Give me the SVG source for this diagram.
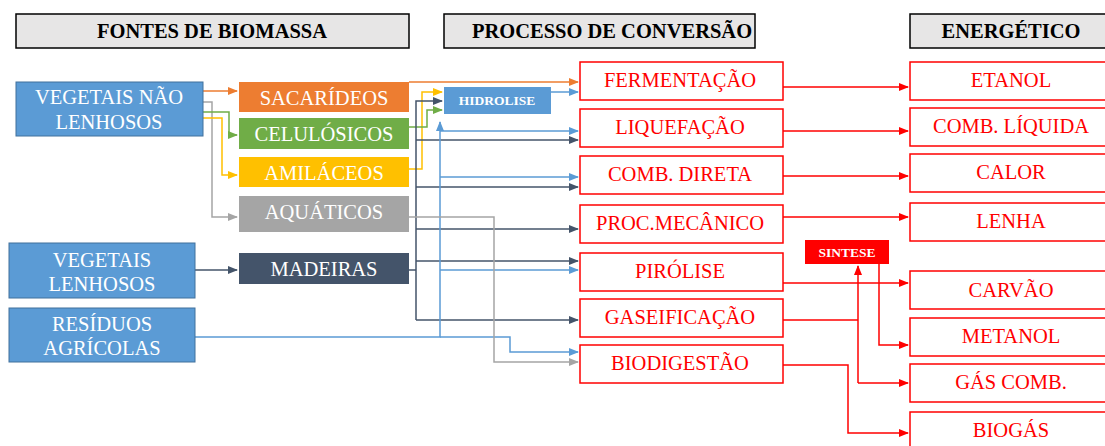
<svg xmlns="http://www.w3.org/2000/svg" width="1105" height="446" viewBox="0 0 1105 446" font-family="'Liberation Serif', 'DejaVu Serif', serif">
<style>
text{font-family:'Liberation Serif','DejaVu Serif',serif;text-anchor:middle;}
.hdr rect{fill:#E7E6E6;stroke:#000;stroke-width:1.5;}
.hdr text{font-size:20.5px;font-weight:bold;fill:#000;}
.src rect{fill:#5B9BD5;stroke:#41719C;stroke-width:1;}
.src text,.cat text{font-size:20.5px;fill:#fff;}
.proc rect,.en rect{fill:#fff;stroke:#FF0000;stroke-width:1.5;}
.proc text,.en text{font-size:20.5px;fill:#FF0000;}
.c{fill:none;stroke-width:1.5;}
.or{stroke:#ED7D31;} .gr{stroke:#70AD47;} .ye{stroke:#FFC000;} .gy{stroke:#A5A5A5;} .dk{stroke:#44546A;} .bl{stroke:#5B9BD5;} .rd{stroke:#FF0000;}
</style>
<defs>
<marker id="aor" markerWidth="10" markerHeight="8" refX="9" refY="4" orient="auto" markerUnits="userSpaceOnUse"><path d="M0,0L10,4L0,8z" fill="#ED7D31"/></marker>
<marker id="agr" markerWidth="10" markerHeight="8" refX="9" refY="4" orient="auto" markerUnits="userSpaceOnUse"><path d="M0,0L10,4L0,8z" fill="#70AD47"/></marker>
<marker id="aye" markerWidth="10" markerHeight="8" refX="9" refY="4" orient="auto" markerUnits="userSpaceOnUse"><path d="M0,0L10,4L0,8z" fill="#FFC000"/></marker>
<marker id="agy" markerWidth="10" markerHeight="8" refX="9" refY="4" orient="auto" markerUnits="userSpaceOnUse"><path d="M0,0L10,4L0,8z" fill="#A5A5A5"/></marker>
<marker id="adk" markerWidth="10" markerHeight="8" refX="9" refY="4" orient="auto" markerUnits="userSpaceOnUse"><path d="M0,0L10,4L0,8z" fill="#44546A"/></marker>
<marker id="abl" markerWidth="10" markerHeight="8" refX="9" refY="4" orient="auto" markerUnits="userSpaceOnUse"><path d="M0,0L10,4L0,8z" fill="#5B9BD5"/></marker>
<marker id="ard" markerWidth="10" markerHeight="8" refX="9" refY="4" orient="auto" markerUnits="userSpaceOnUse"><path d="M0,0L10,4L0,8z" fill="#FF0000"/></marker>
</defs>

<g id="headers" class="hdr">
<g id="h-fontes"><rect x="16" y="14" width="393" height="34"/><text x="212" y="38">FONTES DE BIOMASSA</text></g>
<g id="h-processo"><rect x="444" y="14" width="311" height="34"/><text x="612" y="38">PROCESSO DE CONVERSÃO</text></g>
<g id="h-energetico"><rect x="910" y="14" width="200" height="34"/><text x="1011" y="38">ENERGÉTICO</text></g>
</g>

<g id="connectors">
<path class="c or" d="M203,91H237" marker-end="url(#aor)"/>
<path class="c gy" d="M203,102H212V217H237" marker-end="url(#agy)"/>
<path class="c gr" d="M203,112H229V135H237" marker-end="url(#agr)"/>
<path class="c ye" d="M203,118H222V175H237" marker-end="url(#aye)"/>
<path class="c dk" d="M195,270H237" marker-end="url(#adk)"/>

<path class="c or" d="M409,82H578" marker-end="url(#aor)"/>
<path class="c ye" d="M409,169H422V92H442" marker-end="url(#aye)"/>
<path class="c gr" d="M409,127H427V110H442" marker-end="url(#agr)"/>
<path class="c bl" d="M551,92H578" marker-end="url(#abl)"/>

<path class="c dk" d="M409,270H416"/>
<path class="c dk" d="M416,320V101H442" marker-end="url(#adk)"/>
<path class="c dk" d="M416,140H578" marker-end="url(#adk)"/>
<path class="c dk" d="M416,187H578" marker-end="url(#adk)"/>
<path class="c dk" d="M416,229H578" marker-end="url(#adk)"/>
<path class="c dk" d="M416,261H578" marker-end="url(#adk)"/>
<path class="c dk" d="M416,320H578" marker-end="url(#adk)"/>

<path class="c bl" d="M195,337H440V122" marker-end="url(#abl)"/>
<path class="c bl" d="M440,131H578" marker-end="url(#abl)"/>
<path class="c bl" d="M440,177H578" marker-end="url(#abl)"/>
<path class="c bl" d="M440,270H578" marker-end="url(#abl)"/>
<path class="c bl" d="M440,337H510V352H578" marker-end="url(#abl)"/>

<path class="c gy" d="M409,217H494V362H578" marker-end="url(#agy)"/>

<path class="c rd" d="M783,87H908" marker-end="url(#ard)"/>
<path class="c rd" d="M783,131H908" marker-end="url(#ard)"/>
<path class="c rd" d="M783,176H908" marker-end="url(#ard)"/>
<path class="c rd" d="M783,217H908" marker-end="url(#ard)"/>
<path class="c rd" d="M783,283H908" marker-end="url(#ard)"/>
<path class="c rd" d="M783,320H858"/>
<path class="c rd" d="M858,383V266" marker-end="url(#ard)"/>
<path class="c rd" d="M858,383H908" marker-end="url(#ard)"/>
<path class="c rd" d="M879,264V345H908" marker-end="url(#ard)"/>
<path class="c rd" d="M783,365H848V433H908" marker-end="url(#ard)"/>
</g>

<g id="n-vnl" class="src"><rect x="16" y="82" width="187" height="54"/><text x="109" y="104">VEGETAIS NÃO</text><text x="109" y="129">LENHOSOS</text></g>
<g id="n-vl" class="src"><rect x="9" y="243" width="186" height="55"/><text x="102" y="267">VEGETAIS</text><text x="102" y="291">LENHOSOS</text></g>
<g id="n-ra" class="src"><rect x="9" y="308" width="186" height="54"/><text x="102" y="331">RESÍDUOS</text><text x="102" y="355">AGRÍCOLAS</text></g>

<g id="n-sacarideos" class="cat"><rect x="239" y="82" width="170" height="30" fill="#ED7D31"/><text x="324" y="105">SACARÍDEOS</text></g>
<g id="n-celulosicos" class="cat"><rect x="239" y="118" width="170" height="31" fill="#70AD47"/><text x="324" y="141">CELULÓSICOS</text></g>
<g id="n-amilaceos" class="cat"><rect x="239" y="157" width="170" height="30" fill="#FFC000"/><text x="324" y="180">AMILÁCEOS</text></g>
<g id="n-aquaticos" class="cat"><rect x="239" y="196" width="170" height="36" fill="#A5A5A5"/><text x="324" y="219">AQUÁTICOS</text></g>
<g id="n-madeiras" class="cat"><rect x="239" y="253" width="170" height="31" fill="#44546A"/><text x="324" y="276">MADEIRAS</text></g>

<g id="n-hidrolise"><rect x="444" y="87" width="107" height="27" fill="#5B9BD5"/><text x="497" y="105" style="font-size:13.5px;font-weight:bold;fill:#fff">HIDROLISE</text></g>

<g id="n-fermentacao" class="proc"><rect x="580" y="62" width="203" height="38"/><text x="680" y="87">FERMENTAÇÃO</text></g>
<g id="n-liquefacao" class="proc"><rect x="580" y="109" width="203" height="38"/><text x="680" y="134">LIQUEFAÇÃO</text></g>
<g id="n-combdireta" class="proc"><rect x="580" y="156" width="203" height="38"/><text x="680" y="181">COMB. DIRETA</text></g>
<g id="n-procmecanico" class="proc"><rect x="580" y="205" width="203" height="38"/><text x="680" y="230">PROC.MECÂNICO</text></g>
<g id="n-pirolise" class="proc"><rect x="580" y="253" width="203" height="38"/><text x="680" y="278">PIRÓLISE</text></g>
<g id="n-gaseificacao" class="proc"><rect x="580" y="299" width="203" height="38"/><text x="680" y="324">GASEIFICAÇÃO</text></g>
<g id="n-biodigestao" class="proc"><rect x="580" y="345" width="203" height="38"/><text x="680" y="370">BIODIGESTÃO</text></g>

<g id="n-sintese"><rect x="805" y="240" width="84" height="24" fill="#FF0000"/><text x="847" y="257" style="font-size:13.5px;font-weight:bold;fill:#fff">SINTESE</text></g>

<g id="n-etanol" class="en"><rect x="910" y="62" width="200" height="38"/><text x="1011" y="87">ETANOL</text></g>
<g id="n-combliquida" class="en"><rect x="910" y="108" width="200" height="38"/><text x="1011" y="133">COMB. LÍQUIDA</text></g>
<g id="n-calor" class="en"><rect x="910" y="154" width="200" height="38"/><text x="1011" y="179">CALOR</text></g>
<g id="n-lenha" class="en"><rect x="910" y="203" width="200" height="38"/><text x="1011" y="228">LENHA</text></g>
<g id="n-carvao" class="en"><rect x="910" y="271" width="200" height="38"/><text x="1011" y="297">CARVÃO</text></g>
<g id="n-metanol" class="en"><rect x="910" y="318" width="200" height="38"/><text x="1011" y="343">METANOL</text></g>
<g id="n-gascomb" class="en"><rect x="910" y="364" width="200" height="38"/><text x="1011" y="389">GÁS COMB.</text></g>
<g id="n-biogas" class="en"><rect x="910" y="412" width="200" height="40"/><text x="1011" y="437">BIOGÁS</text></g>
</svg>
